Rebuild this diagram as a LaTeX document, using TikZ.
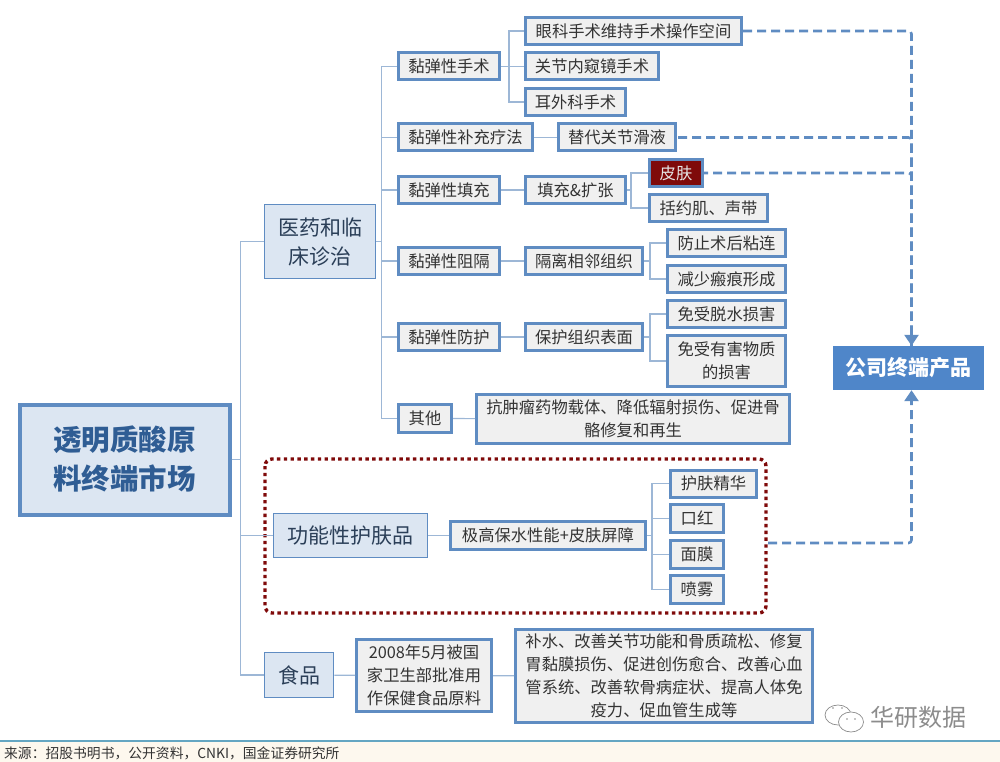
\documentclass[tikz,border=0pt]{standalone}
\usepackage{fontspec}
\setmainfont{Noto Sans CJK SC}
\usepackage{xcolor}
\usetikzlibrary{arrows.meta}
\definecolor{edgeblue}{HTML}{5F8CC2}
\definecolor{linkblue}{HTML}{9DB7D6}
\definecolor{midfill}{HTML}{DCE6F2}
\definecolor{leaffill}{HTML}{F0F0F0}
\definecolor{darkred}{HTML}{7F0A0A}
\definecolor{prodblue}{HTML}{4F86C9}
\definecolor{footfill}{HTML}{FDF8EE}
\definecolor{midtext}{HTML}{2B3F58}
\definecolor{roottext}{HTML}{2F5D94}
\tikzset{leaf/.style={draw=edgeblue, line width=3pt, fill=leaffill, inner sep=0pt, align=center, text=black!80, font=\fontsize{16.3}{23}\selectfont},
  mid/.style={draw=edgeblue, line width=1.6pt, fill=midfill, inner sep=0pt, align=center, text=midtext, font=\fontsize{21}{29}\selectfont},
  link/.style={draw=linkblue, line width=1.2pt},
  busline/.style={draw=edgeblue, line width=2.6pt, dash pattern=on 9pt off 5pt, rounded corners=3pt},
  dotface/.style={fill=black!45, inner sep=0pt, minimum size=1.6pt, circle}}
\begin{document}
\begin{tikzpicture}[x=1pt, y=-1pt]
\useasboundingbox (0, 0) rectangle (1000, 762);
\fill[footfill] (0, 741) rectangle (1000, 762);
\draw[color=cyan!50!gray, line width=1.4pt] (0, 741) -- (1000, 741);
% first column
\node[mid, line width=4pt, minimum width=210, minimum height=110, text=roottext, font=\fontsize{28.5}{39}\selectfont\bfseries] (market) at (124.5, 459.5) {透明质酸原\\料终端市场};
\node[mid, minimum width=111, minimum height=74] (medical) at (320, 241.5) {医药和临\\床诊治};
\node[mid, minimum width=154, minimum height=44] (skincare) at (350.5, 535.5) {功能性护肤品};
\node[mid, minimum width=69, minimum height=45] (food) at (299, 675) {食品};
% second column
\node[leaf, minimum width=101, minimum height=27] (surgery) at (449, 66.5) {黏弹性手术};
\node[leaf, minimum width=134, minimum height=27] (supply) at (465.5, 137.5) {黏弹性补充疗法};
\node[leaf, minimum width=101, minimum height=27] (filler) at (449, 190) {黏弹性填充};
\node[leaf, minimum width=101, minimum height=27] (barrier) at (449, 261) {黏弹性阻隔};
\node[leaf, minimum width=101, minimum height=27] (protect) at (449, 337) {黏弹性防护};
\node[leaf, minimum width=53, minimum height=28] (other) at (425, 418.5) {其他};
% third column
\node[leaf, minimum width=216, minimum height=27] (eye) at (633.5, 31) {眼科手术维持手术操作空间};
\node[leaf, minimum width=133, minimum height=27] (joint) at (592, 66.5) {关节内窥镜手术};
\node[leaf, minimum width=100, minimum height=27] (ear) at (575.5, 102) {耳外科手术};
\node[leaf, minimum width=117, minimum height=27] (fluid) at (617, 137.5) {替代关节滑液};
\node[leaf, minimum width=100, minimum height=27] (expand) at (575.5, 190) {填充\&扩张};
\node[leaf, fill=darkred, text=white!90!black, minimum width=53, minimum height=27] (skin) at (676, 173) {皮肤};
\node[leaf, minimum width=118, minimum height=27] (sphincter) at (708.5, 208) {括约肌、声带};
\node[leaf, minimum width=117, minimum height=27] (isolate) at (584, 261) {隔离相邻组织};
\node[leaf, minimum width=118, minimum height=27] (adhesion) at (726.5, 243) {防止术后粘连};
\node[leaf, minimum width=118, minimum height=27] (scar) at (726.5, 279) {减少瘢痕形成};
\node[leaf, minimum width=117, minimum height=27] (surface) at (584, 337) {保护组织表面};
\node[leaf, minimum width=118, minimum height=27] (dehydrate) at (726.5, 314) {免受脱水损害};
\node[leaf, minimum width=118, minimum height=51] (harm) at (726.5, 361) {免受有害物质\\的损害};
\node[leaf, minimum width=313, minimum height=49] (carrier) at (633, 419) {抗肿瘤药物载体、降低辐射损伤、促进骨\\骼修复和再生};
% skin care
\node[leaf, minimum width=195, minimum height=28] (moisture) at (548, 535.5) {极高保水性能+皮肤屏障};
\node[leaf, minimum width=86, minimum height=27] (essence) at (713.5, 483.5) {护肤精华};
\node[leaf, minimum width=53, minimum height=28] (lipstick) at (697, 518.5) {口红};
\node[leaf, minimum width=53, minimum height=28] (mask) at (697, 554.5) {面膜};
\node[leaf, minimum width=53, minimum height=28] (spray) at (697, 589.5) {喷雾};
\draw[darkred, line width=3.4pt, dash pattern=on 3.4pt off 3.4pt, rounded corners=7pt] (265, 459) rectangle (766, 613);
% food
\node[leaf, minimum width=135, minimum height=72] (approve) at (424, 675.5) {2008年5月被国\\家卫生部批准用\\作保健食品原料};
\node[leaf, minimum width=297, minimum height=93] (effect) at (664, 676) {补水、改善关节功能和骨质疏松、修复\\胃黏膜损伤、促进创伤愈合、改善心血\\管系统、改善软骨病症状、提高人体免\\疫力、促血管生成等};
\node[fill=prodblue, text=white, inner sep=0pt, minimum width=151, minimum height=44, font=\fontsize{21}{26}\selectfont\bfseries] (product) at (908.5, 368) {公司终端产品};
% tree lines
\foreach \kid in {medical, skincare, food}
  \draw[link] (market.east) -- ++(9, 0) |- (\kid.west);
\foreach \kid in {surgery, supply, filler, barrier, protect, other}
  \draw[link] (medical.east) -- ++(5, 0) |- (\kid.west);
\foreach \kid in {eye, joint, ear}
  \draw[link] (surgery.east) -- ++(8, 0) |- (\kid.west);
\foreach \kid in {skin, sphincter}
  \draw[link] (expand.east) -- ++(4, 0) |- (\kid.west);
\foreach \kid in {adhesion, scar}
  \draw[link] (isolate.east) -- ++(6, 0) |- (\kid.west);
\foreach \kid in {dehydrate, harm}
  \draw[link] (surface.east) -- ++(6, 0) |- (\kid.west);
\foreach \kid in {essence, lipstick, mask, spray}
  \draw[link] (moisture.east) -- ++(5, 0) |- (\kid.west);
\draw[link] (supply) -- (fluid);
\draw[link] (filler) -- (expand);
\draw[link] (barrier) -- (isolate);
\draw[link] (protect) -- (surface);
\draw[link] (other) -- (carrier);
\draw[link] (skincare) -- (moisture);
\draw[link] (food) -- (approve);
\draw[link] (approve) -- (effect);
% dashed lines to the product box
\coordinate (prodtop) at ([xshift=3pt]product.north);
\coordinate (prodbottom) at ([xshift=3pt]product.south);
\coordinate (carefree) at (768, 543);
\draw[busline, dash phase=13pt] (fluid.east) -| (prodtop);
\draw[busline, dash phase=5pt] (skin.east) -| (prodtop);
\draw[busline, -{Triangle[length=11pt, width=14pt]}] (eye.east) -| (prodtop);
\draw[busline, -{Triangle[length=11pt, width=14pt]}] (carefree) -| (prodbottom);
% footer and mark
\node[anchor=west, inner sep=0pt, text=black!80, font=\fontsize{13.8}{15}\selectfont] (source) at (4, 753) {来源：招股书明书，公开资料，CNKI，国金证券研究所};
\node[anchor=west, inner sep=0pt, text=black!45, font=\fontsize{24}{28}\selectfont] (brand) at (870, 717) {华研数据};
\draw[black!45, line width=.7pt, fill=white] (838, 715) ellipse (13 and 10);
\draw[black!45, line width=.7pt, fill=white] (851, 722) ellipse (12.5 and 10);
\node[dotface] (dota) at (833, 708) {};
\node[dotface] (dotb) at (842, 708) {};
\node[dotface] (dotc) at (847, 719) {};
\node[dotface] (dotd) at (855, 719) {};
\end{tikzpicture}
\end{document}
